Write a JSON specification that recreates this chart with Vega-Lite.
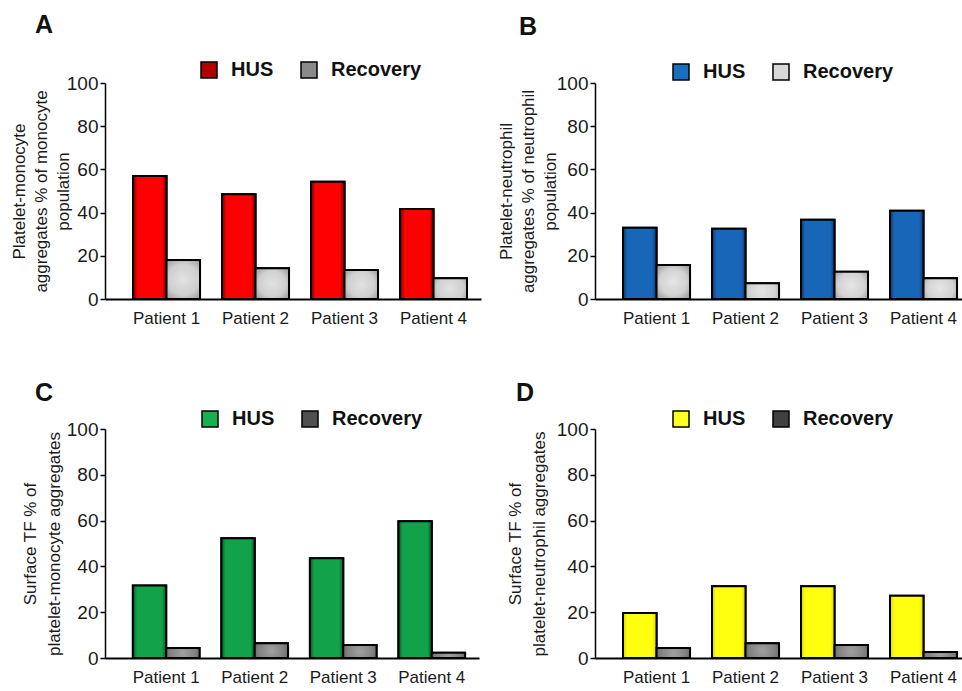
{
  "$schema": "https://vega.github.io/schema/vega-lite/v6.json",
  "padding": {"left": 10, "top": 13, "right": 0, "bottom": 0},
  "background": "white",
  "datasets": {
    "bars": [
      {"panel": "A", "patient": "Patient 1", "status": "HUS", "value": 57},
      {"panel": "A", "patient": "Patient 2", "status": "HUS", "value": 48.5},
      {"panel": "A", "patient": "Patient 3", "status": "HUS", "value": 54.3},
      {"panel": "A", "patient": "Patient 4", "status": "HUS", "value": 41.7},
      {"panel": "A", "patient": "Patient 1", "status": "Recovery", "value": 18},
      {"panel": "A", "patient": "Patient 2", "status": "Recovery", "value": 14.2},
      {"panel": "A", "patient": "Patient 3", "status": "Recovery", "value": 13.4},
      {"panel": "A", "patient": "Patient 4", "status": "Recovery", "value": 9.6},
      {"panel": "B", "patient": "Patient 1", "status": "HUS", "value": 33},
      {"panel": "B", "patient": "Patient 2", "status": "HUS", "value": 32.5},
      {"panel": "B", "patient": "Patient 3", "status": "HUS", "value": 36.7},
      {"panel": "B", "patient": "Patient 4", "status": "HUS", "value": 40.9},
      {"panel": "B", "patient": "Patient 1", "status": "Recovery", "value": 15.7},
      {"panel": "B", "patient": "Patient 2", "status": "Recovery", "value": 7.3},
      {"panel": "B", "patient": "Patient 3", "status": "Recovery", "value": 12.6},
      {"panel": "B", "patient": "Patient 4", "status": "Recovery", "value": 9.6},
      {"panel": "C", "patient": "Patient 1", "status": "HUS", "value": 31.7},
      {"panel": "C", "patient": "Patient 2", "status": "HUS", "value": 52.3},
      {"panel": "C", "patient": "Patient 3", "status": "HUS", "value": 43.6},
      {"panel": "C", "patient": "Patient 4", "status": "HUS", "value": 59.7},
      {"panel": "C", "patient": "Patient 1", "status": "Recovery", "value": 4.4},
      {"panel": "C", "patient": "Patient 2", "status": "Recovery", "value": 6.4},
      {"panel": "C", "patient": "Patient 3", "status": "Recovery", "value": 5.7},
      {"panel": "C", "patient": "Patient 4", "status": "Recovery", "value": 2.3},
      {"panel": "D", "patient": "Patient 1", "status": "HUS", "value": 19.6},
      {"panel": "D", "patient": "Patient 2", "status": "HUS", "value": 31.3},
      {"panel": "D", "patient": "Patient 3", "status": "HUS", "value": 31.3},
      {"panel": "D", "patient": "Patient 4", "status": "HUS", "value": 27.2},
      {"panel": "D", "patient": "Patient 1", "status": "Recovery", "value": 4.4},
      {"panel": "D", "patient": "Patient 2", "status": "Recovery", "value": 6.4},
      {"panel": "D", "patient": "Patient 3", "status": "Recovery", "value": 5.7},
      {"panel": "D", "patient": "Patient 4", "status": "Recovery", "value": 2.6}
    ]
  },
  "data": {"name": "bars"},
  "columns": 2,
  "spacing": {"row": 55, "column": 16},
  "resolve": {
    "scale": {"color": "independent", "x": "independent", "y": "independent", "xOffset": "independent"},
    "legend": {"color": "independent"}
  },
  "concat": [
    {
      "width": 376, "height": 216,
      "title": {"text": "A", "anchor": "start", "frame": "group", "dx": -70, "offset": 22, "fontSize": 25, "fontWeight": "bold", "color": "#111"},
      "transform": [{"filter": "datum.panel === 'A'"}],
      "encoding": {
        "x": {"field": "patient", "type": "nominal", "scale": {"paddingInner": 0.247, "paddingOuter": 0.236, "align": 0.667},
              "axis": {"title": null, "labelAngle": 0, "ticks": false, "labelFontSize": 17, "labelPadding": 11, "domainWidth": 2}},
        "xOffset": {"field": "status", "type": "nominal", "scale": {"paddingInner": 0, "paddingOuter": 0}},
        "y": {"field": "value", "type": "quantitative", "scale": {"domain": [0, 100]},
              "axis": {"title": ["Platelet-monocyte", "aggregates % of monocyte", "population"], "titlePadding": -6, "values": [0, 20, 40, 60, 80, 100]}}
      },
      "layer": [
        {"mark": {"type": "bar", "stroke": "black", "strokeWidth": 2},
         "encoding": {"color": {"field": "status", "type": "nominal",
           "scale": {"domain": ["HUS", "Recovery"], "range": ["#b00000", "#8a8a8a"]},
           "legend": {"orient": "none", "legendX": 94, "legendY": -23, "direction": "horizontal", "title": null}}}},
        {"mark": {"type": "bar", "stroke": "black", "strokeWidth": 2},
         "encoding": {"fill": {
           "condition": {"test": "datum.status === 'HUS'", "value": {"gradient": "linear", "x1": 0, "x2": 1, "y1": 0, "y2": 0, "stops": [{"offset": 0, "color": "#700000"}, {"offset": 0.13, "color": "#ff0000"}, {"offset": 0.87, "color": "#ff0000"}, {"offset": 1, "color": "#700000"}]}},
           "value": {"gradient": "radial", "x1": 0.5, "y1": 0.5, "r1": 0, "x2": 0.5, "y2": 0.5, "r2": 0.72, "stops": [{"offset": 0, "color": "#e2e2e2"}, {"offset": 0.55, "color": "#cfcfcf"}, {"offset": 1, "color": "#8c8c8c"}]}
         }}}
      ]
    },
    {
      "width": 376, "height": 216,
      "title": {"text": "B", "anchor": "start", "frame": "group", "dx": -76, "offset": 22, "fontSize": 25, "fontWeight": "bold", "color": "#111"},
      "transform": [{"filter": "datum.panel === 'B'"}],
      "encoding": {
        "x": {"field": "patient", "type": "nominal", "scale": {"paddingInner": 0.247, "paddingOuter": 0.236, "align": 0.667},
              "axis": {"title": null, "labelAngle": 0, "ticks": false, "labelFontSize": 17, "labelPadding": 11, "domainWidth": 2}},
        "xOffset": {"field": "status", "type": "nominal", "scale": {"paddingInner": 0, "paddingOuter": 0}},
        "y": {"field": "value", "type": "quantitative", "scale": {"domain": [0, 100]},
              "axis": {"title": ["Platelet-neutrophil", "aggregates % of neutrophil", "population"], "titlePadding": -3, "values": [0, 20, 40, 60, 80, 100]}}
      },
      "layer": [
        {"mark": {"type": "bar", "stroke": "black", "strokeWidth": 2},
         "encoding": {"color": {"field": "status", "type": "nominal",
           "scale": {"domain": ["HUS", "Recovery"], "range": ["#1a6ec0", "#d8d8d8"]},
           "legend": {"orient": "none", "legendX": 76, "legendY": -21, "direction": "horizontal", "title": null}}}},
        {"mark": {"type": "bar", "stroke": "black", "strokeWidth": 2},
         "encoding": {"fill": {
           "condition": {"test": "datum.status === 'HUS'", "value": {"gradient": "linear", "x1": 0, "x2": 1, "y1": 0, "y2": 0, "stops": [{"offset": 0, "color": "#0b3a70"}, {"offset": 0.13, "color": "#1766b8"}, {"offset": 0.87, "color": "#1766b8"}, {"offset": 1, "color": "#0b3a70"}]}},
           "value": {"gradient": "radial", "x1": 0.5, "y1": 0.5, "r1": 0, "x2": 0.5, "y2": 0.5, "r2": 0.72, "stops": [{"offset": 0, "color": "#e6e6e6"}, {"offset": 0.55, "color": "#d2d2d2"}, {"offset": 1, "color": "#8c8c8c"}]}
         }}}
      ]
    },
    {
      "width": 374, "height": 229,
      "title": {"text": "C", "anchor": "start", "frame": "group", "dx": -70, "offset": 3, "fontSize": 25, "fontWeight": "bold", "color": "#111"},
      "transform": [{"filter": "datum.panel === 'C'"}],
      "encoding": {
        "x": {"field": "patient", "type": "nominal", "scale": {"paddingInner": 0.247, "paddingOuter": 0.236, "align": 0.667},
              "axis": {"title": null, "labelAngle": 0, "ticks": false, "labelFontSize": 17, "labelPadding": 11, "domainWidth": 2}},
        "xOffset": {"field": "status", "type": "nominal", "scale": {"paddingInner": 0, "paddingOuter": 0}},
        "y": {"field": "value", "type": "quantitative", "scale": {"domain": [0, 100]},
              "axis": {"title": ["Surface TF % of", "platelet-monocyte aggregates"], "titlePadding": 3, "titleLineHeight": 24, "values": [0, 20, 40, 60, 80, 100]}}
      },
      "layer": [
        {"mark": {"type": "bar", "stroke": "black", "strokeWidth": 2},
         "encoding": {"color": {"field": "status", "type": "nominal",
           "scale": {"domain": ["HUS", "Recovery"], "range": ["#17b050", "#505050"]},
           "legend": {"orient": "none", "legendX": 95, "legendY": -20, "direction": "horizontal", "title": null}}}},
        {"mark": {"type": "bar", "stroke": "black", "strokeWidth": 2},
         "encoding": {"fill": {
           "condition": {"test": "datum.status === 'HUS'", "value": {"gradient": "linear", "x1": 0, "x2": 1, "y1": 0, "y2": 0, "stops": [{"offset": 0, "color": "#075a28"}, {"offset": 0.13, "color": "#12a34a"}, {"offset": 0.87, "color": "#12a34a"}, {"offset": 1, "color": "#075a28"}]}},
           "value": {"gradient": "radial", "x1": 0.5, "y1": 0.5, "r1": 0, "x2": 0.5, "y2": 0.5, "r2": 0.72, "stops": [{"offset": 0, "color": "#a0a0a0"}, {"offset": 0.55, "color": "#808080"}, {"offset": 1, "color": "#404040"}]}
         }}}
      ]
    },
    {
      "width": 376, "height": 229,
      "title": {"text": "D", "anchor": "start", "frame": "group", "dx": -79, "offset": 3, "fontSize": 25, "fontWeight": "bold", "color": "#111"},
      "transform": [{"filter": "datum.panel === 'D'"}],
      "encoding": {
        "x": {"field": "patient", "type": "nominal", "scale": {"paddingInner": 0.247, "paddingOuter": 0.236, "align": 0.667},
              "axis": {"title": null, "labelAngle": 0, "ticks": false, "labelFontSize": 17, "labelPadding": 11, "domainWidth": 2}},
        "xOffset": {"field": "status", "type": "nominal", "scale": {"paddingInner": 0, "paddingOuter": 0}},
        "y": {"field": "value", "type": "quantitative", "scale": {"domain": [0, 100]},
              "axis": {"title": ["Surface TF % of", "platelet-neutrophil aggregates"], "titlePadding": 8, "titleLineHeight": 24, "values": [0, 20, 40, 60, 80, 100]}}
      },
      "layer": [
        {"mark": {"type": "bar", "stroke": "black", "strokeWidth": 2},
         "encoding": {"color": {"field": "status", "type": "nominal",
           "scale": {"domain": ["HUS", "Recovery"], "range": ["#ffff20", "#404040"]},
           "legend": {"orient": "none", "legendX": 76, "legendY": -20, "direction": "horizontal", "title": null}}}},
        {"mark": {"type": "bar", "stroke": "black", "strokeWidth": 2},
         "encoding": {"fill": {
           "condition": {"test": "datum.status === 'HUS'", "value": {"gradient": "linear", "x1": 0, "x2": 1, "y1": 0, "y2": 0, "stops": [{"offset": 0, "color": "#d8d800"}, {"offset": 0.13, "color": "#ffff10"}, {"offset": 0.87, "color": "#ffff10"}, {"offset": 1, "color": "#d8d800"}]}},
           "value": {"gradient": "radial", "x1": 0.5, "y1": 0.5, "r1": 0, "x2": 0.5, "y2": 0.5, "r2": 0.72, "stops": [{"offset": 0, "color": "#a0a0a0"}, {"offset": 0.55, "color": "#808080"}, {"offset": 1, "color": "#404040"}]}
         }}}
      ]
    }
  ],
  "config": {
    "font": "Liberation Sans",
    "view": {"stroke": null},
    "axis": {"grid": false, "domainColor": "black", "tickColor": "black", "labelColor": "#1a1a1a", "titleColor": "#1a1a1a", "titleFontWeight": "normal"},
    "axisY": {"domainWidth": 1.5, "tickSize": 5, "tickWidth": 1.5, "labelFontSize": 19, "labelPadding": 2, "titleFontSize": 17, "titleLineHeight": 22},
    "legend": {"symbolType": "square", "symbolSize": 256, "symbolStrokeColor": "black", "symbolStrokeWidth": 1.5, "symbolOpacity": 1, "labelFontSize": 20, "labelFontWeight": "bold", "labelColor": "#111", "columnPadding": 24, "labelOffset": 12}
  }
}
